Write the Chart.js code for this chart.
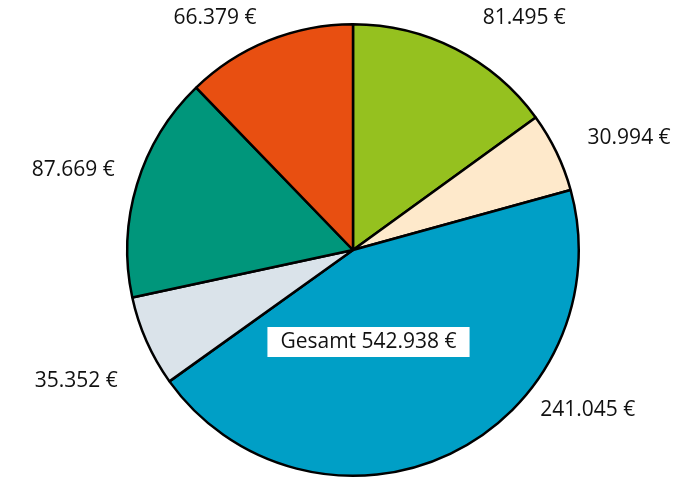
<!DOCTYPE html>
<html>
<head>
<meta charset="utf-8">
<script src="https://cdn.jsdelivr.net/npm/chart.js@4"></script>
<style>
  html, body { margin: 0; padding: 0; background: #ffffff; }
  #wrap { width: 700px; height: 478px; }
</style>
</head>
<body>
<div id="wrap"><canvas id="pie"></canvas></div>
<script>
// slice values, clockwise from 12 o'clock
const VALUES = [81495, 30994, 241045, 35352, 87669, 66379];
const VALUE_LABELS = ["81.495 €", "30.994 €", "241.045 €", "35.352 €", "87.669 €", "66.379 €"];
const COLORS = ["#95c11f", "#fee9cb", "#009fc6", "#dae3ea", "#00967b", "#e84f11"];
const TOTAL_LABEL = "Gesamt 542.938 €";

// label anchors as offsets from the pie centre, in units of the radius
const LABEL_OFFSETS = [[0.759, -1.027], [1.223, -0.496], [1.04, 0.708], [-1.226, 0.58], [-1.239, -0.354], [-0.611, -1.029]];

const FONT = "21px 'Open Sans', sans-serif";

const labelPlugin = {
  id: "outerLabels",
  afterDraw(chart) {
    const arc = chart.getDatasetMeta(0).data[0];
    if (!arc) return;
    const { x, y, outerRadius } = arc.getProps(["x", "y", "outerRadius"], true);
    const ctx = chart.ctx;
    ctx.save();
    ctx.font = FONT;
    ctx.fillStyle = "#111111";
    ctx.textAlign = "center";
    ctx.textBaseline = "middle";
    VALUE_LABELS.forEach((t, i) => {
      const [dx, dy] = LABEL_OFFSETS[i];
      ctx.fillText(t, x + dx * outerRadius, y + dy * outerRadius);
    });
    // total box
    const tx = x + 15.5, ty = y + 92;
    const w = ctx.measureText(TOTAL_LABEL).width + 26;
    ctx.fillStyle = "#ffffff";
    ctx.fillRect(tx - w / 2, ty - 15, w, 30);
    ctx.fillStyle = "#111111";
    ctx.fillText(TOTAL_LABEL, tx, ty);
    ctx.restore();
  }
};

new Chart(document.getElementById("pie"), {
  type: "pie",
  data: {
    labels: VALUE_LABELS,
    datasets: [{
      data: VALUES,
      backgroundColor: COLORS,
      borderColor: "#000000",
      borderWidth: 2.5,
      hoverOffset: 0,
    }]
  },
  options: {
    responsive: true,
    maintainAspectRatio: false,
    animation: false,
    layout: { padding: { left: 6, right: 0, top: 23, bottom: 1 } },
    plugins: {
      legend: { display: false },
      tooltip: { enabled: false },
    }
  },
  plugins: [labelPlugin]
});
</script>
</body>
</html>
